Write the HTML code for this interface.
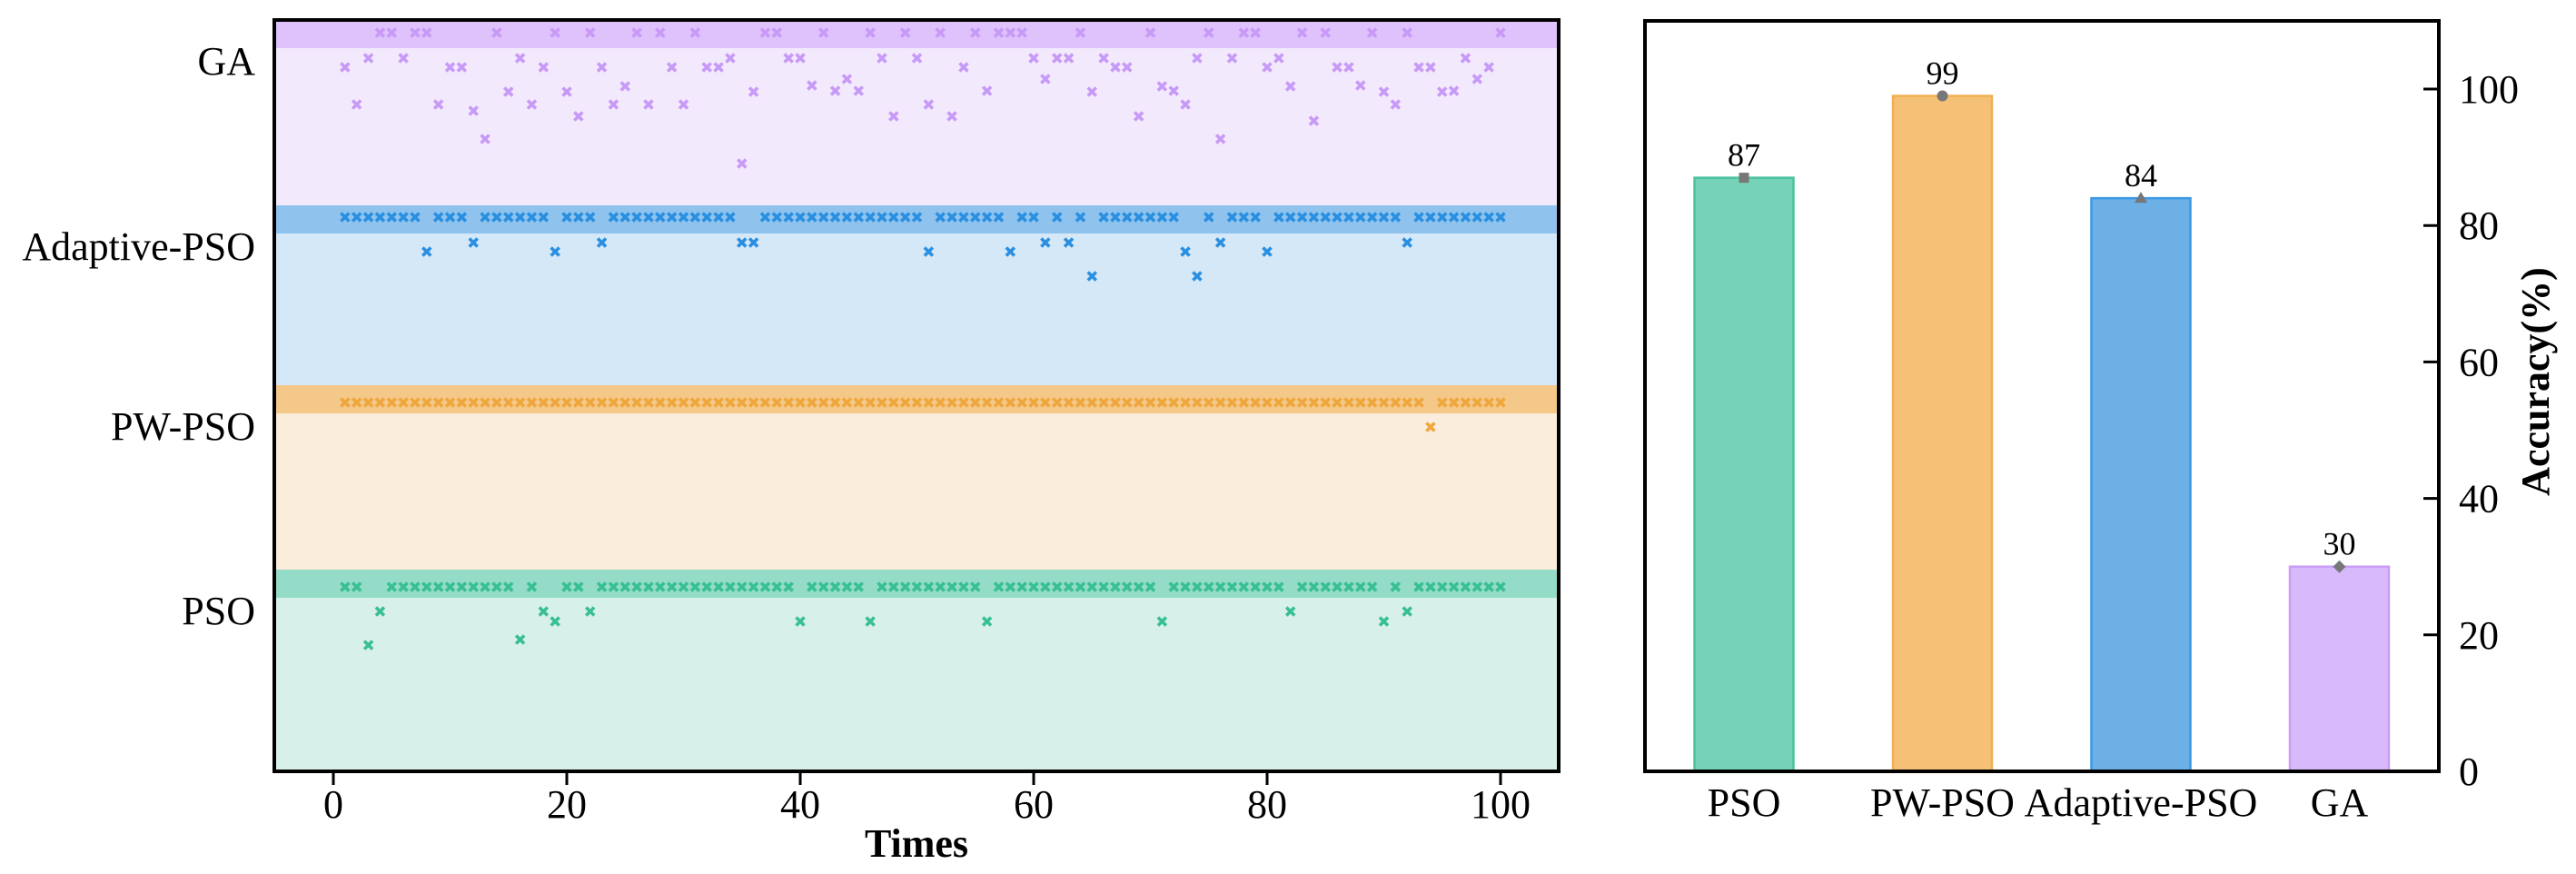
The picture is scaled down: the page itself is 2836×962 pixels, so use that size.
<!DOCTYPE html>
<html><head><meta charset="utf-8"><style>
html,body{margin:0;padding:0;background:#fff;}
svg{display:block;font-family:"Liberation Serif",serif;}
</style></head><body>
<svg id="chart" width="2836" height="962" viewBox="0 0 2836 962" xmlns="http://www.w3.org/2000/svg">
<g id="left"></g>
<g id="right"></g>
</svg>
<script>
// ---- left panel data (fitness gap per run, 0 = optimum found) ----
const runs = Array.from({length:100},(_,i)=>i+1);
const gaGap = [3.8,7.9,2.8,0,0,2.8,0,0,7.9,3.8, 3.8,8.6,11.7,0,6.5,2.8,7.9,3.8,0,6.5, 9.2,0,3.8,7.9,5.9,0,7.9,0,3.8,7.9, 0,3.8,3.8,2.8,14.4,6.5,0,0,2.8,2.8, 5.8,0,6.4,5.1,6.4,0,2.8,9.2,0,2.8, 7.9,0,9.2,3.8,0,6.4,0,0,0,2.8, 5.1,2.8,2.8,0,6.5,2.8,3.8,3.8,9.2,0, 5.9,6.4,7.9,2.8,0,11.7,2.8,0,0,3.8, 2.8,5.9,0,9.7,0,3.8,3.8,5.8,0,6.5, 7.9,0,3.8,3.8,6.5,6.4,2.8,5.1,3.8,0];
const adaptiveGap = [0,0,0,0,0,0,0,3.8,0,0, 0,2.8,0,0,0,0,0,0,3.8,0, 0,0,2.8,0,0,0,0,0,0,0, 0,0,0,0,2.8,2.8,0,0,0,0, 0,0,0,0,0,0,0,0,0,0, 3.8,0,0,0,0,0,0,3.8,0,0, 2.8,0,2.8,0,6.5,0,0,0,0,0, 0,0,3.8,6.5,0,2.8,0,0,0,3.8, 0,0,0,0,0,0,0,0,0,0, 0,2.8,0,0,0,0,0,0,0,0];
const pwGap = [0,0,0,0,0,0,0,0,0,0, 0,0,0,0,0,0,0,0,0,0, 0,0,0,0,0,0,0,0,0,0, 0,0,0,0,0,0,0,0,0,0, 0,0,0,0,0,0,0,0,0,0, 0,0,0,0,0,0,0,0,0,0, 0,0,0,0,0,0,0,0,0,0, 0,0,0,0,0,0,0,0,0,0, 0,0,0,0,0,0,0,0,0,0, 0,0,0,2.7,0,0,0,0,0,0];
const psoGap = [0,0,6.4,2.7,0,0,0,0,0,0, 0,0,0,0,0,5.8,0,2.7,3.8,0, 0,2.7,0,0,0,0,0,0,0,0, 0,0,0,0,0,0,0,0,0,3.8, 0,0,0,0,0,3.8,0,0,0,0, 0,0,0,0,0,3.8,0,0,0,0, 0,0,0,0,0,0,0,0,0,0, 3.8,0,0,0,0,0,0,0,0,0, 0,2.7,0,0,0,0,0,0,0,3.8, 0,2.7,0,0,0,0,0,0,0,0];
const xTicks = [0,20,40,60,80,100];
// ---- right panel data ----
const algos = ["PSO","PW-PSO","Adaptive-PSO","GA"];
const accuracy = [87,99,84,30];
const yTicks = [0,20,40,60,80,100];

const NS="http://www.w3.org/2000/svg";
function mk(tag,attrs,parent){const e=document.createElementNS(NS,tag);for(const k in attrs)e.setAttribute(k,attrs[k]);parent.appendChild(e);return e;}

// ---------- LEFT ----------
const L=document.getElementById('left');
const AX0=302, AX1=1716, AY0=22, AY1=849;
const xs=v=>367+(v)*12.85;
const bands=[
 {name:"GA",data:gaGap,top:22,bot:226,row:36,dark:"#dfc1fb",light:"#f3e9fd",mk:"#c79af7",key:"ga"},
 {name:"Adaptive-PSO",data:adaptiveGap,top:226,bot:424,row:239,dark:"#8fc3ee",light:"#d5e8f7",mk:"#2a8fe0",key:"adaptive-pso"},
 {name:"PW-PSO",data:pwGap,top:424,bot:627,row:443,dark:"#f4c889",light:"#fbeddb",mk:"#eea73c",key:"pw-pso"},
 {name:"PSO",data:psoGap,top:627,bot:849,row:646,dark:"#94dcc7",light:"#d8f0ea",mk:"#38bf94",key:"pso"}
];
const gapScale=10;
bands.forEach(b=>{
  const lb=mk('rect',{x:AX0,y:b.top,width:AX1-AX0,height:b.bot-b.top,fill:b.light},L);
  
  
  const db=mk('rect',{x:AX0,y:b.top,width:AX1-AX0,height:31,fill:b.dark},L);
  
  
  const t=mk('text',{x:281,y:b.top+60,'text-anchor':'end','font-size':44,fill:'#000'},L);
  t.textContent=b.name;
  
  
  b.data.forEach((g,i)=>{
    const cx=xs(runs[i]), cy=b.row+g*gapScale;
    const p=mk('path',{d:`M${cx-4.5},${cy-4.5}L${cx+4.5},${cy+4.5}M${cx-4.5},${cy+4.5}L${cx+4.5},${cy-4.5}`,stroke:b.mk,'stroke-width':3.6,fill:'none'},L);
    
    
  });
});
const lf=mk('rect',{x:AX0,y:AY0,width:AX1-AX0,height:AY1-AY0,fill:'none',stroke:'#000','stroke-width':4},L);


xTicks.forEach(v=>{
  const x=xs(v);
  const tk=mk('line',{x1:x,y1:AY1,x2:x,y2:AY1+15,stroke:'#000','stroke-width':3},L);
  
  
  const t=mk('text',{x:x,y:900,'text-anchor':'middle','font-size':44},L);
  t.textContent=v;
  
  
});
const xt=mk('text',{x:1009,y:943,'text-anchor':'middle','font-size':44,'font-weight':'bold'},L);
xt.textContent='Times';



// ---------- RIGHT ----------
const R=document.getElementById('right');
const BX0=1811, BX1=2685, BY0=23, BY1=849;
const bx=i=>1920+i*218.5;
const by=v=>BY1-v*7.51;
const bw=109;
const fills=["#76d2b8","#f4c177","#6cb0e6","#d8b9fb"];
const edges=["#4cc39e","#f0b052","#3c98e3","#c99ef7"];
accuracy.forEach((v,i)=>{
  const key=algos[i].toLowerCase();
  const r=mk('rect',{x:bx(i)-bw/2,y:by(v),width:bw,height:BY1-by(v),fill:fills[i],stroke:edges[i],'stroke-width':2.5},R);
  
  
  const cx=bx(i), cy=by(v);
  let m;
  if(i===0) m=mk('rect',{x:cx-5.5,y:cy-5.5,width:11,height:11,fill:'#777'},R);
  else if(i===1) m=mk('circle',{cx:cx,cy:cy,r:6,fill:'#777'},R);
  else if(i===2) m=mk('path',{d:`M${cx},${cy-7}L${cx+7},${cy+5}L${cx-7},${cy+5}Z`,fill:'#777'},R);
  else m=mk('path',{d:`M${cx},${cy-7}L${cx+7},${cy}L${cx},${cy+7}L${cx-7},${cy}Z`,fill:'#777'},R);
  
  
  const t=mk('text',{x:cx,y:cy-13,'text-anchor':'middle','font-size':36},R);
  t.textContent=v;
  
  
  const c=mk('text',{x:cx,y:898,'text-anchor':'middle','font-size':44},R);
  c.textContent=algos[i];
  
  
});
const rf=mk('rect',{x:BX0,y:BY0,width:BX1-BX0,height:BY1-BY0,fill:'none',stroke:'#000','stroke-width':4},R);


yTicks.forEach(v=>{
  const y=by(v);
  const tk=mk('line',{x1:BX1-17,y1:y,x2:BX1,y2:y,stroke:'#000','stroke-width':3},R);
  
  
  const t=mk('text',{x:2707,y:y+15,'font-size':44},R);
  t.textContent=v;
  
  
});
const yt=mk('text',{x:0,y:0,'text-anchor':'middle','font-size':44,'font-weight':'bold',transform:'translate(2806,420) rotate(-90)'},R);
yt.textContent='Accuracy(%)';


</script>
</body></html>
